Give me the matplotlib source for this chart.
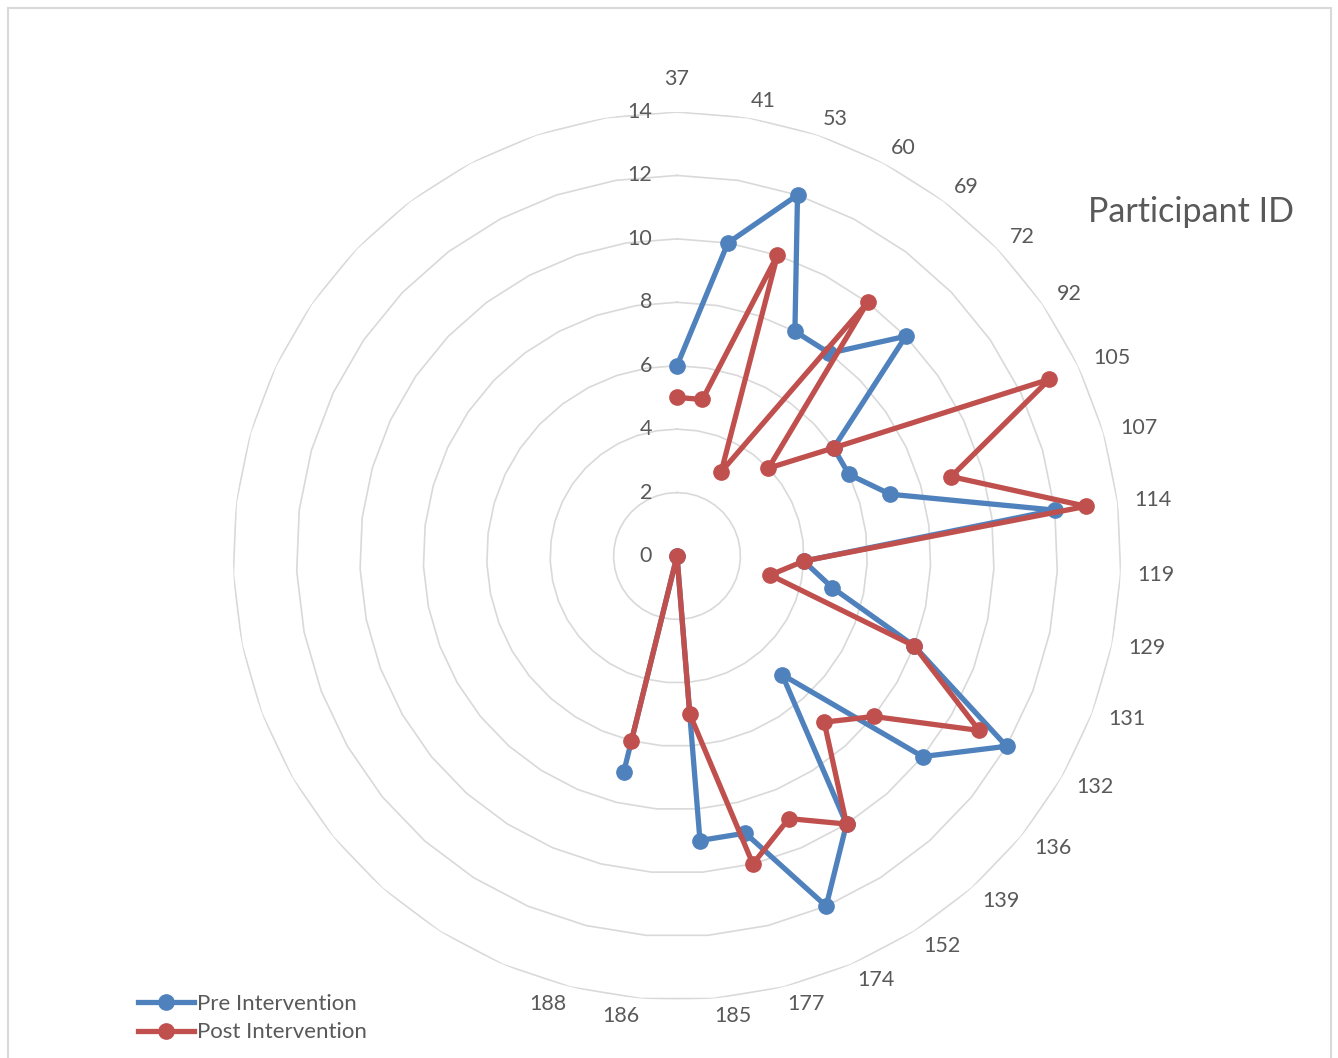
import numpy as np
import matplotlib
matplotlib.use("Agg")
import matplotlib.pyplot as plt
from matplotlib.patches import Rectangle

# === Data ===
# radar has 39 spokes, only the first 22 carry a participant
participant_ids = ["37", "41", "53", "60", "69", "72", "92", "105", "107", "114", "119",
                   "129", "131", "132", "136", "139", "152", "174", "177", "185", "186", "188"]
n_spokes = 39
pre_scores = [6, 10, 12, 8, 8, 10, 6, 6, 7, 12, 4, 5, 8, 12, 10, 5, 10, 12, 9, 9, 0, 7]
post_scores = [5, 5, 10, 3, 10, 4, 6, 13, 9, 13, 4, 3, 8, 11, 8, 7, 10, 9, 10, 5, 0, 6]
ring_values = [0, 2, 4, 6, 8, 10, 12, 14]

PRE_COLOR = "#4f81bd"
POST_COLOR = "#c0504d"
GRID_COLOR = "#d9d9d9"
TEXT_COLOR = "#595959"

plt.rcParams['font.family'] = ['Lato', 'DejaVu Sans']

fig = plt.figure(figsize=(13.38, 10.58), dpi=100)

# chart border
fig.patches.append(Rectangle((7.5 / 1338, -0.01), 1323 / 1338, 1 - 7.5 / 1058 + 0.01,
                             transform=fig.transFigure, fill=False,
                             edgecolor=GRID_COLOR, linewidth=1.5))

ax = fig.add_axes([233 / 1338, 58 / 1058, 888 / 1338, 888 / 1058], projection="polar")
ax.set_theta_zero_location("N")
ax.set_theta_direction(-1)
ax.set_ylim(0, 14)
ax.grid(False)
ax.spines["polar"].set_visible(False)
ax.set_xticks([])
ax.set_yticks([])
ax.patch.set_alpha(0)

# polygon rings
ring_theta = np.linspace(0, 2 * np.pi, n_spokes + 1)
for r in ring_values[1:]:
    ax.plot(ring_theta, [r] * len(ring_theta), color=GRID_COLOR, lw=1.2, zorder=1)

# value labels up the vertical axis
for r in ring_values:
    ax.annotate(str(r), xy=(0, r), xytext=(-18, 0), textcoords="offset points",
                ha="right", va="center", fontsize=15.5, color=TEXT_COLOR)

# participant labels round the outside, pushed sideways away from the spoke
theta = 2 * np.pi * np.arange(len(participant_ids)) / n_spokes
px_per_unit = 444 / 14
for t, label in zip(theta, participant_ids):
    s = np.sin(t)
    if abs(s) < 1e-6:
        ha, dist = "center", 477
    else:
        ha, dist = ("left" if s > 0 else "right"), 461
    ax.text(t, dist / px_per_unit, label, ha=ha, va="center",
            fontsize=15.5, color=TEXT_COLOR, clip_on=False)

ax.plot(theta, pre_scores, color=PRE_COLOR, lw=3.8, marker="o", markersize=11,
        label="Pre Intervention", zorder=3, clip_on=False)
ax.plot(theta, post_scores, color=POST_COLOR, lw=3.8, marker="o", markersize=11,
        label="Post Intervention", zorder=4, clip_on=False)

fig.text(1191 / 1338, 1 - 212 / 1058, "Participant ID", ha="center", va="center",
         fontsize=24.5, color=TEXT_COLOR)

fig.legend(loc="center left", bbox_to_anchor=(118 / 1338, 1 - 1018 / 1058),
           frameon=False, fontsize=16, handlelength=2.5, handletextpad=0.15,
           labelspacing=0.4, labelcolor=TEXT_COLOR)

fig.savefig("out.png", dpi=100)
